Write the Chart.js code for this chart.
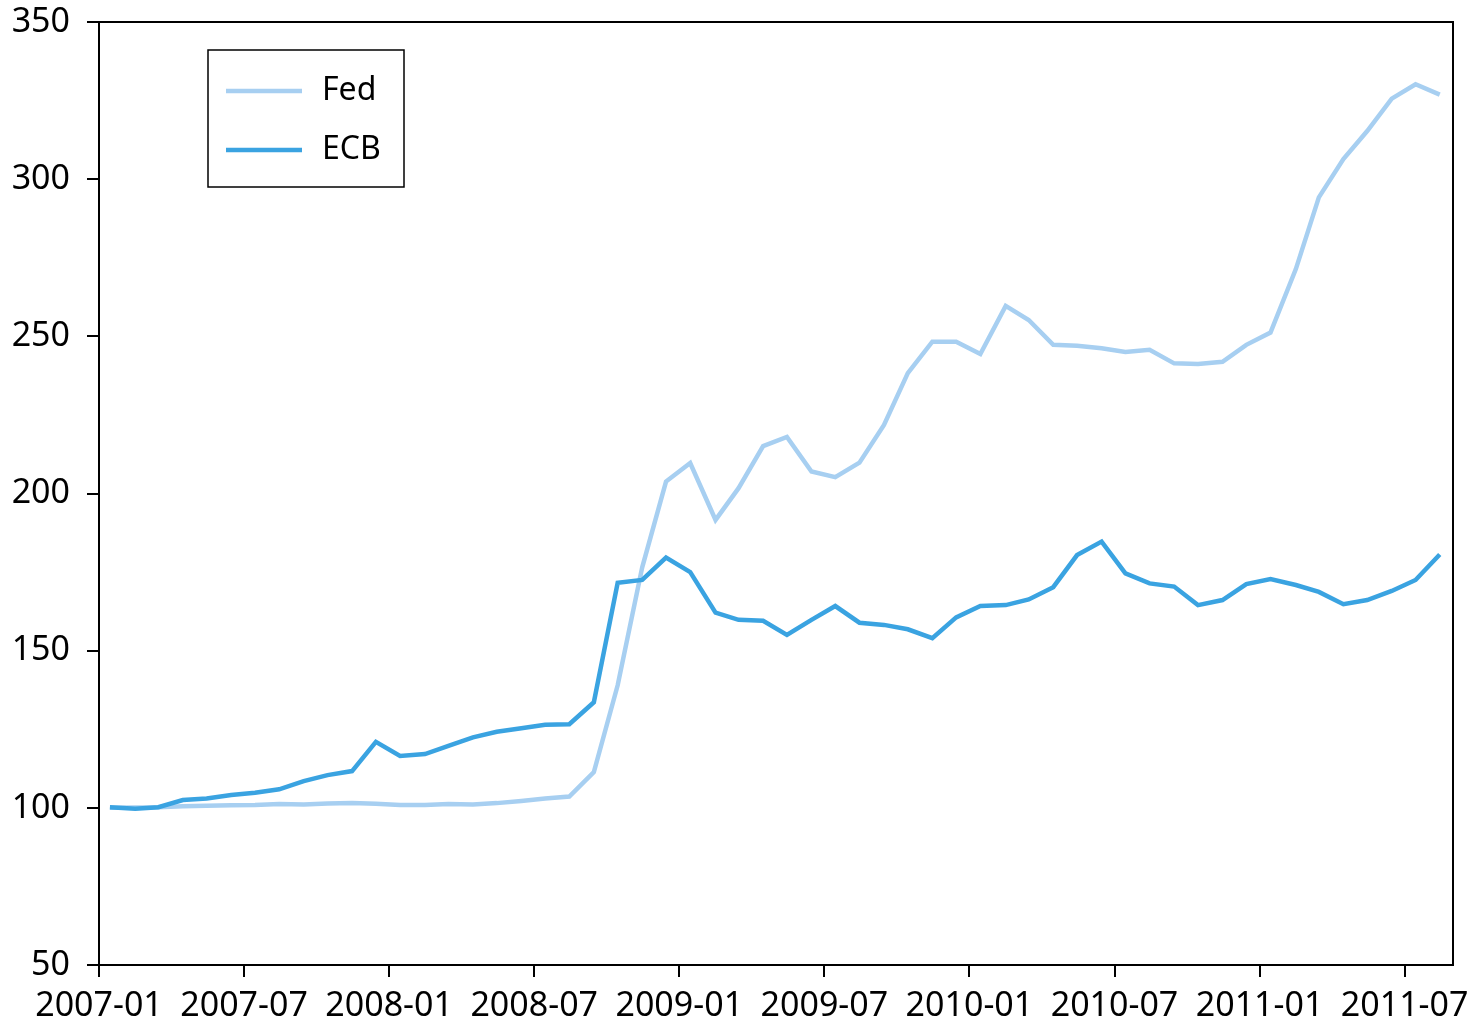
<!DOCTYPE html>
<html>
<head>
<meta charset="utf-8">
<script src="https://cdn.jsdelivr.net/npm/chart.js@4.4.1/dist/chart.umd.min.js"></script>
<style>
  html, body { margin: 0; padding: 0; background: #ffffff; }
  #wrap { width: 1484px; height: 1024px; }
</style>
</head>
<body>
<div id="wrap"><canvas id="c" width="1484" height="1024"></canvas></div>
<script>
// ---- data (monthly, mid-month observations) ----
const months = [
  '2007-01','2007-02','2007-03','2007-04','2007-05','2007-06','2007-07','2007-08','2007-09','2007-10','2007-11','2007-12',
  '2008-01','2008-02','2008-03','2008-04','2008-05','2008-06','2008-07','2008-08','2008-09','2008-10','2008-11','2008-12',
  '2009-01','2009-02','2009-03','2009-04','2009-05','2009-06','2009-07','2009-08','2009-09','2009-10','2009-11','2009-12',
  '2010-01','2010-02','2010-03','2010-04','2010-05','2010-06','2010-07','2010-08','2010-09','2010-10','2010-11','2010-12',
  '2011-01','2011-02','2011-03','2011-04','2011-05','2011-06','2011-07','2011-08'
];
const fedValues = [
  100, 100.1, 100.2, 100.5, 100.7, 100.8, 100.9, 101.2, 101.1, 101.4, 101.5, 101.3,
  100.9, 100.9, 101.2, 101.1, 101.5, 102.2, 103.0, 103.6, 111.4, 139, 176.5, 203.8,
  209.7, 191.6, 201.7, 215.1, 218, 207, 205.2, 209.8, 221.8, 238.3, 248.3, 248.3,
  244.4, 259.7, 255.2, 247.3, 247, 246.2, 245, 245.7, 241.4, 241.2, 241.9, 247.3,
  251.2, 271.4, 294.2, 306.4, 315.3, 325.6, 330.2, 326.9
];
const ecbValues = [
  100.2, 99.7, 100.2, 102.5, 103, 104.1, 104.8, 105.9, 108.5, 110.4, 111.7, 121,
  116.5, 117.1, 119.7, 122.4, 124.2, 125.3, 126.4, 126.6, 133.6, 171.6, 172.5, 179.6,
  175, 162.1, 159.8, 159.5, 155, 159.8, 164.2, 158.9, 158.2, 156.8, 154, 160.6,
  164.2, 164.5, 166.3, 170.2, 180.4, 184.7, 174.6, 171.4, 170.4, 164.5, 166.1, 171.2,
  172.8, 170.9, 168.7, 164.8, 166.1, 169, 172.5, 180.6
];
const seriesNames = ['Fed', 'ECB'];
const xTickLabels = ['2007-01','2007-07','2008-01','2008-07','2009-01','2009-07','2010-01','2010-07','2011-01','2011-07'];
const yTickValues = [50, 100, 150, 200, 250, 300, 350];

// ---- helpers: month label -> months since 2007-01 ----
const BASE_YEAR = 2007;
function monthIndex(label) {
  const [y, m] = label.split('-').map(Number);
  return (y - BASE_YEAR) * 12 + (m - 1);
}
function midMonth(label) {
  const [y, m] = label.split('-').map(Number);
  const days = new Date(y, m, 0).getDate();
  return monthIndex(label) + 14 / days;
}
function indexToLabel(v) {
  const y = BASE_YEAR + Math.floor(v / 12);
  const m = (v % 12) + 1;
  return y + '-' + String(m).padStart(2, '0');
}
const toPoints = vals => vals.map((v, i) => ({ x: midMonth(months[i]), y: v }));

const FONT = '"Noto Sans", "Open Sans", sans-serif';
const FED_COLOR = '#a7cff1';
const ECB_COLOR = '#3aa3e1';

// frame plugin: box around the plot area
const framePlugin = {
  id: 'frame',
  afterDraw(chart) {
    const { ctx, chartArea: a } = chart;
    ctx.save();
    ctx.strokeStyle = '#000';
    ctx.lineWidth = 2;
    ctx.strokeRect(a.left, a.top, a.right - a.left, a.bottom - a.top);
    ctx.restore();
  }
};

// legend plugin: boxed legend inside the plot area
const boxLegendPlugin = {
  id: 'boxLegend',
  afterDraw(chart) {
    const { ctx } = chart;
    const left = 208, top = 50, w = 196, h = 137;
    ctx.save();
    ctx.fillStyle = '#fff';
    ctx.fillRect(left, top, w, h);
    ctx.strokeStyle = '#000';
    ctx.lineWidth = 1.5;
    ctx.strokeRect(left, top, w, h);
    ctx.font = '32px ' + FONT;
    ctx.textBaseline = 'middle';
    ctx.textAlign = 'left';
    chart.data.datasets.forEach((ds, i) => {
      const y = top + 41 + i * 59;
      ctx.strokeStyle = ds.borderColor;
      ctx.lineWidth = 4.5;
      ctx.beginPath();
      ctx.moveTo(left + 18, y);
      ctx.lineTo(left + 94, y);
      ctx.stroke();
      ctx.fillStyle = '#000';
      ctx.fillText(ds.label, left + 114, y);
    });
    ctx.restore();
  }
};

new Chart(document.getElementById('c'), {
  type: 'line',
  data: {
    datasets: [
      { label: seriesNames[0], data: toPoints(fedValues), borderColor: FED_COLOR, borderWidth: 4.5, pointRadius: 0, tension: 0, order: 2 },
      { label: seriesNames[1], data: toPoints(ecbValues), borderColor: ECB_COLOR, borderWidth: 4.5, pointRadius: 0, tension: 0, order: 1 }
    ]
  },
  options: {
    responsive: false,
    animation: false,
    devicePixelRatio: 1,
    layout: { padding: { top: 22, right: 31, left: 0, bottom: 0 } },
    plugins: { legend: { display: false }, tooltip: { enabled: false } },
    scales: {
      x: {
        type: 'linear',
        min: 0,
        max: 56,
        afterBuildTicks: s => { s.ticks = xTickLabels.map(l => ({ value: monthIndex(l) })); },
        afterFit: s => { s.height = 59; s.paddingLeft = 0; s.paddingRight = 0; },
        ticks: {
          callback: v => indexToLabel(v),
          color: '#000',
          font: { family: FONT, size: 34 },
          padding: 9,
          maxRotation: 0,
          autoSkip: false
        },
        grid: { drawOnChartArea: false, drawTicks: true, tickLength: 12, color: '#000', lineWidth: 2 },
        border: { display: true, color: '#000', width: 2 }
      },
      y: {
        type: 'linear',
        min: 50,
        max: 350,
        afterBuildTicks: s => { s.ticks = yTickValues.map(v => ({ value: v })); },
        afterFit: s => { s.width = 99; s.paddingTop = 0; s.paddingBottom = 0; },
        ticks: {
          color: '#000',
          font: { family: FONT, size: 34 },
          padding: 17
        },
        grid: { drawOnChartArea: false, drawTicks: true, tickLength: 12, color: '#000', lineWidth: 2 },
        border: { display: true, color: '#000', width: 2 }
      }
    }
  },
  plugins: [framePlugin, boxLegendPlugin]
});
</script>
</body>
</html>
